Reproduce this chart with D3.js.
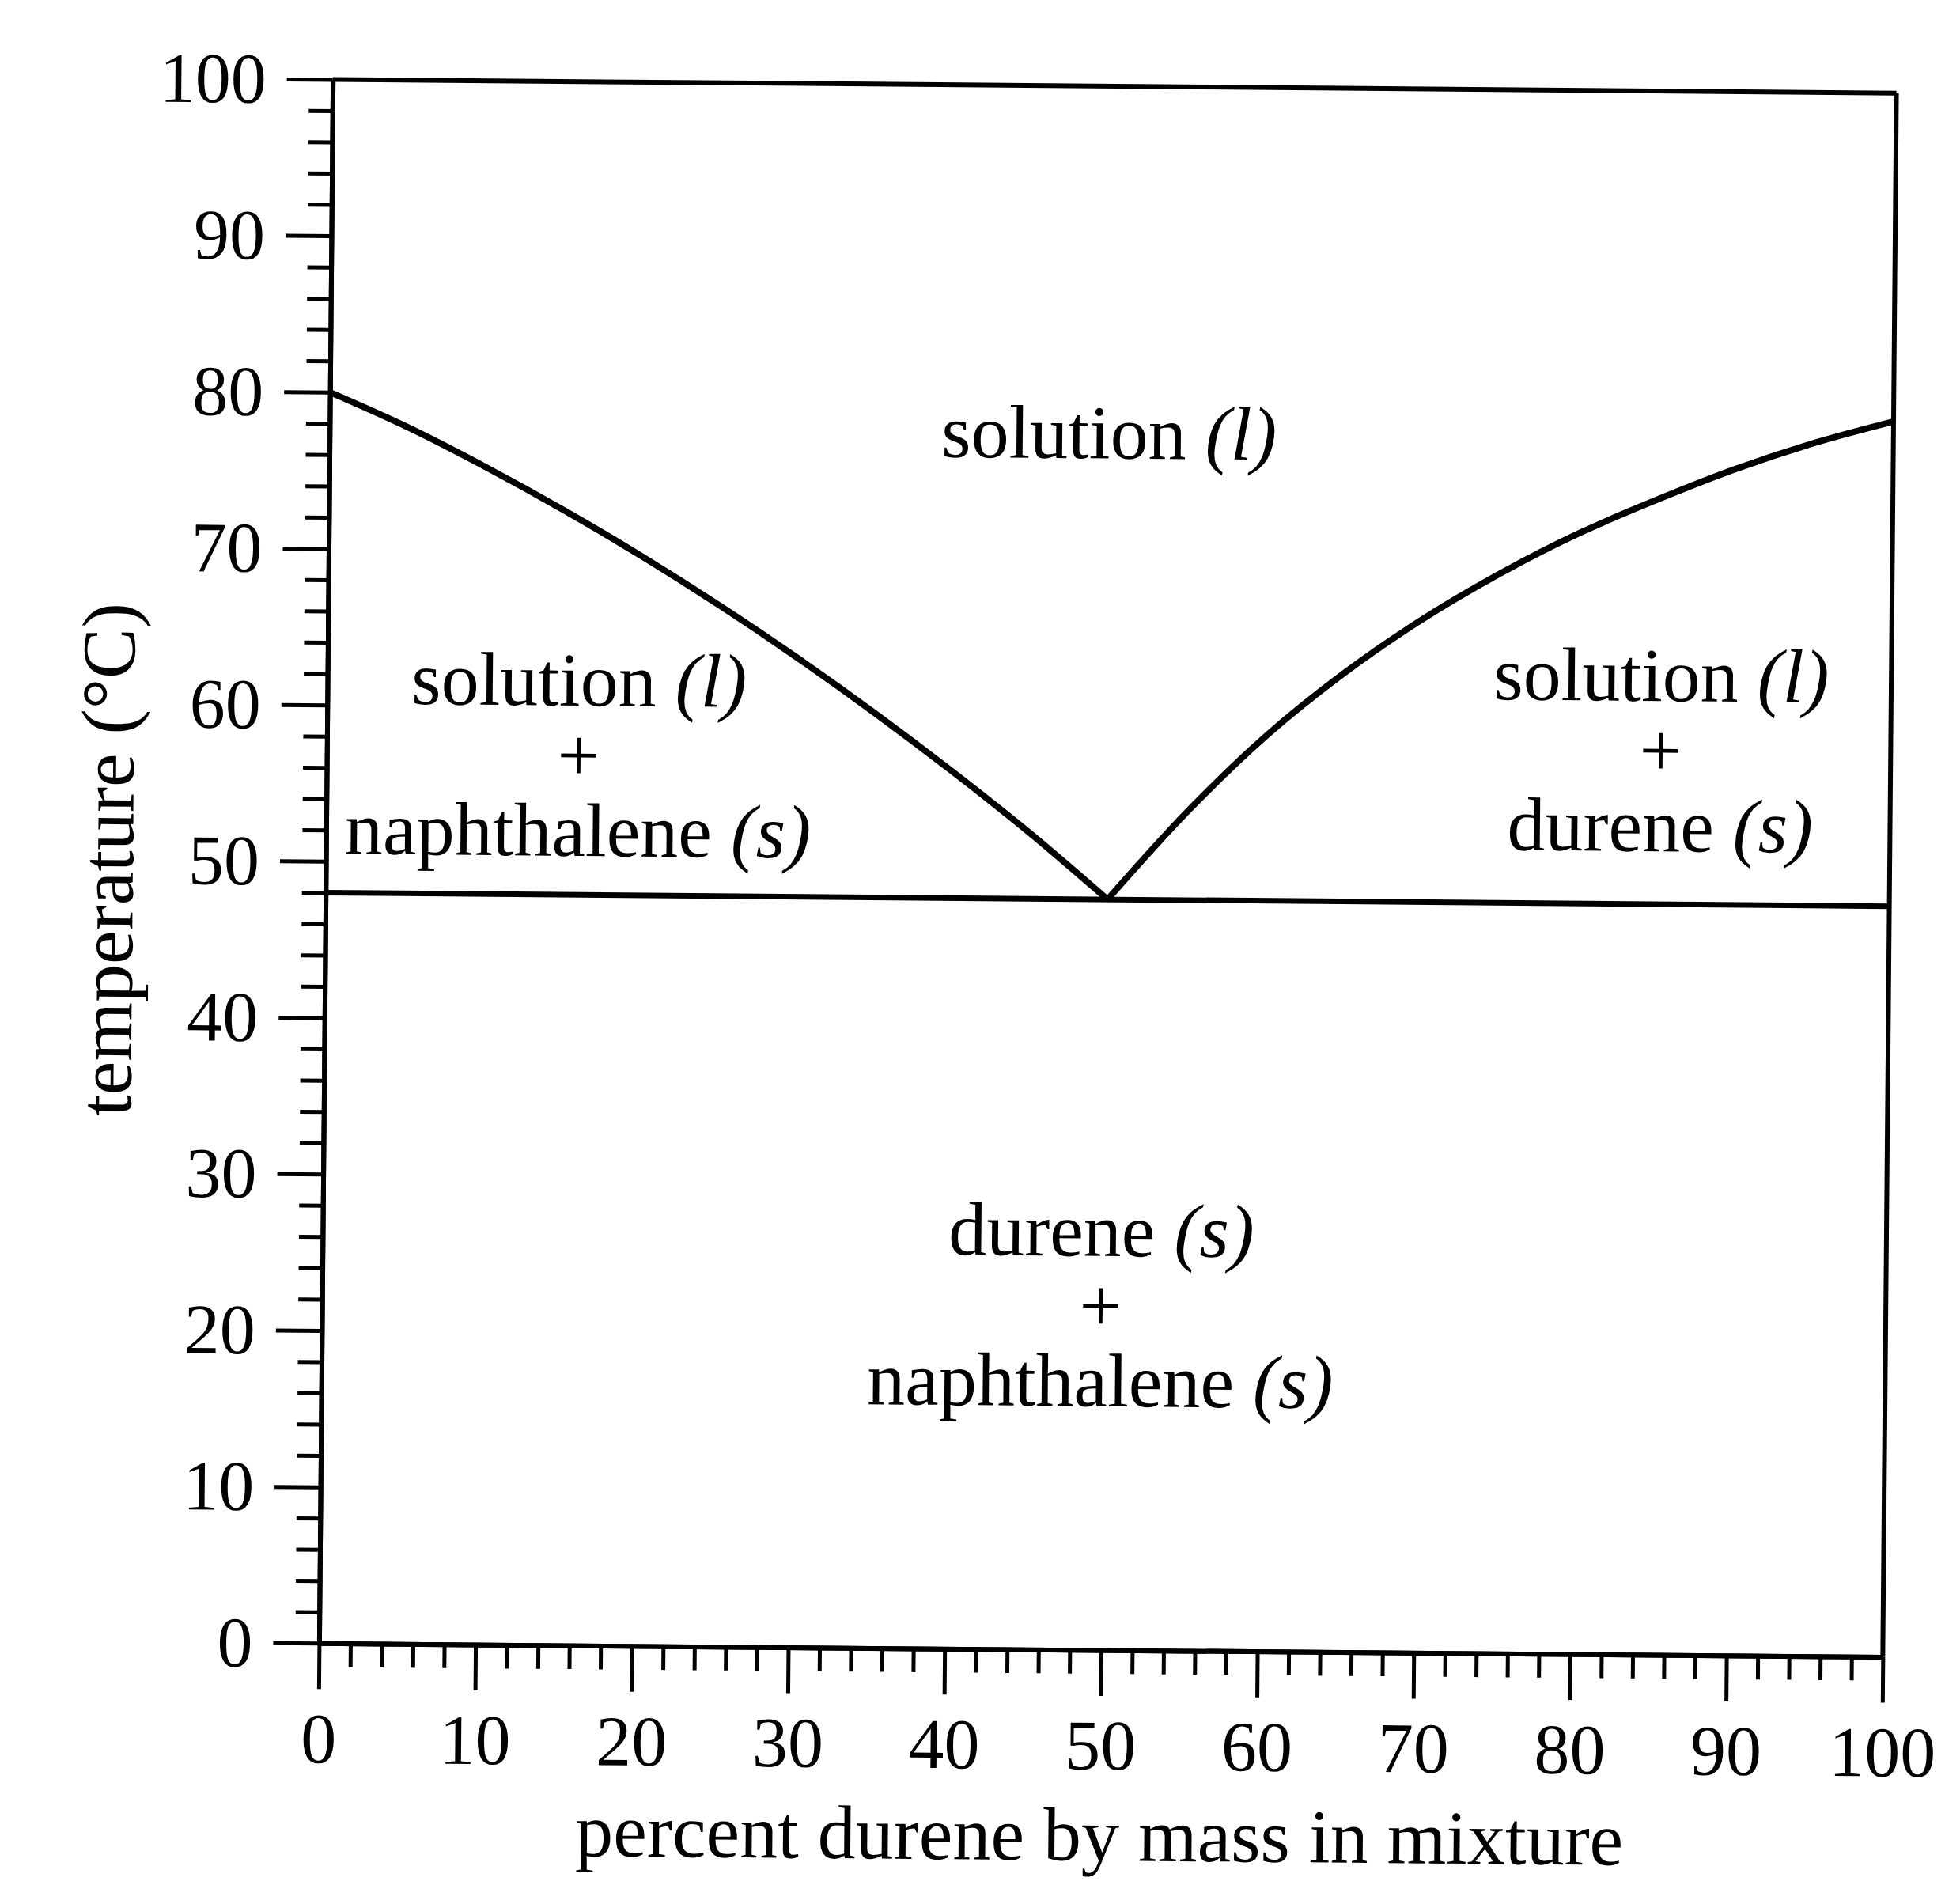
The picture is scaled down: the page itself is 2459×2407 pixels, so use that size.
<!DOCTYPE html>
<html><head><meta charset="utf-8">
<script src="https://cdn.jsdelivr.net/npm/d3@7"></script>
<style>body{margin:0;background:#fff}svg{display:block}</style>
</head><body>
<svg id="c" width="2459" height="2407"></svg>
<script>
// ---- data ----
const xMajorTicks = [0,10,20,30,40,50,60,70,80,90,100];
const yMajorTicks = [0,10,20,30,40,50,60,70,80,90,100];
const minorStep = 2;
const leftLiquidus = [[0,80],[5,77.8],[10,75.3],[15,72.6],[20,69.7],[25,66.6],[30,63.3],[35,59.8],[40,56.1],[45,52.2],[50,48]];
const rightLiquidus = [[50,48],[55,53.6],[60,58.5],[65,62.6],[70,66.1],[75,69.1],[80,71.7],[85,73.9],[90,75.9],[95,77.6],[100,79]];
const eutecticTemp = 48;
const regionLabels = [
  {x:49.85, t:76.2, lines:[[["solution ",false],["(l)",true]]]},
  {x:16.1, t:60.1, lines:[[["solution ",false],["(l)",true]],[["+",false]],[["naphthalene ",false],["(s)",true]]]},
  {x:85.3, t:61.0, lines:[[["solution ",false],["(l)",true]],[["+",false]],[["durene ",false],["(s)",true]]]},
  {x:49.8, t:25.2, lines:[[["durene ",false],["(s)",true]],[["+",false]],[["naphthalene ",false],["(s)",true]]]}
];
const xTitle = "percent durene by mass in mixture";
const yTitle = "temperature (°C)";

// ---- layout ----
const L = 412, T = 109, W = 1977, H = 1977;
const FONT = "'Liberation Serif','Times New Roman',serif";
const svg = d3.select("#c");
const root = svg.append("g").attr("transform", `rotate(0.5, ${L+W/2}, ${T+H/2})`);
const x = d3.scaleLinear().domain([0,100]).range([L, L+W]);
const y = d3.scaleLinear().domain([0,100]).range([T+H, T]);
const minorVals = d3.range(0, 100.001, minorStep).filter(v => !xMajorTicks.includes(v));
const sw = 6;

// minor ticks
const yMinor = d3.axisLeft(y).tickValues(minorVals).tickSize(30).tickSizeOuter(0).tickFormat("");
const xMinor = d3.axisBottom(x).tickValues(minorVals).tickSize(30).tickSizeOuter(0).tickFormat("");
root.append("g").attr("transform", `translate(${L},0)`).call(yMinor);
root.append("g").attr("transform", `translate(0,${T+H})`).call(xMinor);

// major ticks with labels
const yAxis = d3.axisLeft(y).tickValues(yMajorTicks).tickSize(58).tickSizeOuter(0).tickPadding(26).tickFormat(d3.format("d"));
const xAxis = d3.axisBottom(x).tickValues(xMajorTicks).tickSize(58).tickSizeOuter(0).tickPadding(30).tickFormat(d3.format("d"));
const gy = root.append("g").attr("transform", `translate(${L},0)`).call(yAxis);
const gx = root.append("g").attr("transform", `translate(0,${T+H})`).call(xAxis);

root.selectAll(".tick line").attr("stroke", "#000").attr("stroke-width", 5);
root.selectAll(".domain").attr("stroke", "#000").attr("stroke-width", sw);
gy.selectAll(".tick text").attr("font-family", FONT).attr("font-size", 90).attr("fill", "#000").attr("dy", "0.33em");
gx.selectAll(".tick text").attr("font-family", FONT).attr("font-size", 90).attr("fill", "#000").attr("dy", "0").attr("y", 151);

// top & right borders
root.append("line").attr("x1", x(0)).attr("x2", x(100)).attr("y1", y(100)).attr("y2", y(100)).attr("stroke", "#000").attr("stroke-width", sw);
root.append("line").attr("x1", x(100)).attr("x2", x(100)).attr("y1", y(100)).attr("y2", y(0)).attr("stroke", "#000").attr("stroke-width", sw);

// curves
const line = d3.line().x(d => x(d[0])).y(d => y(d[1])).curve(d3.curveCatmullRom.alpha(0.5));
[leftLiquidus, rightLiquidus].forEach(s => {
  root.append("path").attr("d", line(s)).attr("fill", "none").attr("stroke", "#000").attr("stroke-width", 8).attr("stroke-linejoin", "round");
});
root.append("path").attr("d", d3.line().x(d => x(d[0])).y(d => y(d[1]))([[0,eutecticTemp],[100,eutecticTemp]]))
  .attr("fill","none").attr("stroke","#000").attr("stroke-width", 7);

// region labels (one text element per label, lines as tspans)
const lineGap = 95;
regionLabels.forEach(lab => {
  const t = root.append("text")
    .attr("x", x(lab.x)).attr("y", y(lab.t))
    .attr("text-anchor", "middle").attr("font-family", FONT).attr("font-size", 96).attr("fill", "#000");
  lab.lines.forEach((segs, i) => {
    segs.forEach(([s, it], j) => {
      const ts = t.append("tspan").text(s).attr("font-style", it ? "italic" : "normal");
      if (j === 0) ts.attr("x", x(lab.x)).attr("dy", i === 0 ? 0 : lineGap);
    });
  });
});

// axis titles
root.append("text").attr("x", x(50)).attr("y", T+H+266).attr("text-anchor","middle")
  .attr("font-family", FONT).attr("font-size", 96).attr("fill","#000").text(xTitle);
root.append("text").attr("transform", `translate(${L-244},${T+H/2}) rotate(-90)`).attr("text-anchor","middle")
  .attr("font-family", FONT).attr("font-size", 96).attr("fill","#000").text(yTitle);
</script>
</body></html>
